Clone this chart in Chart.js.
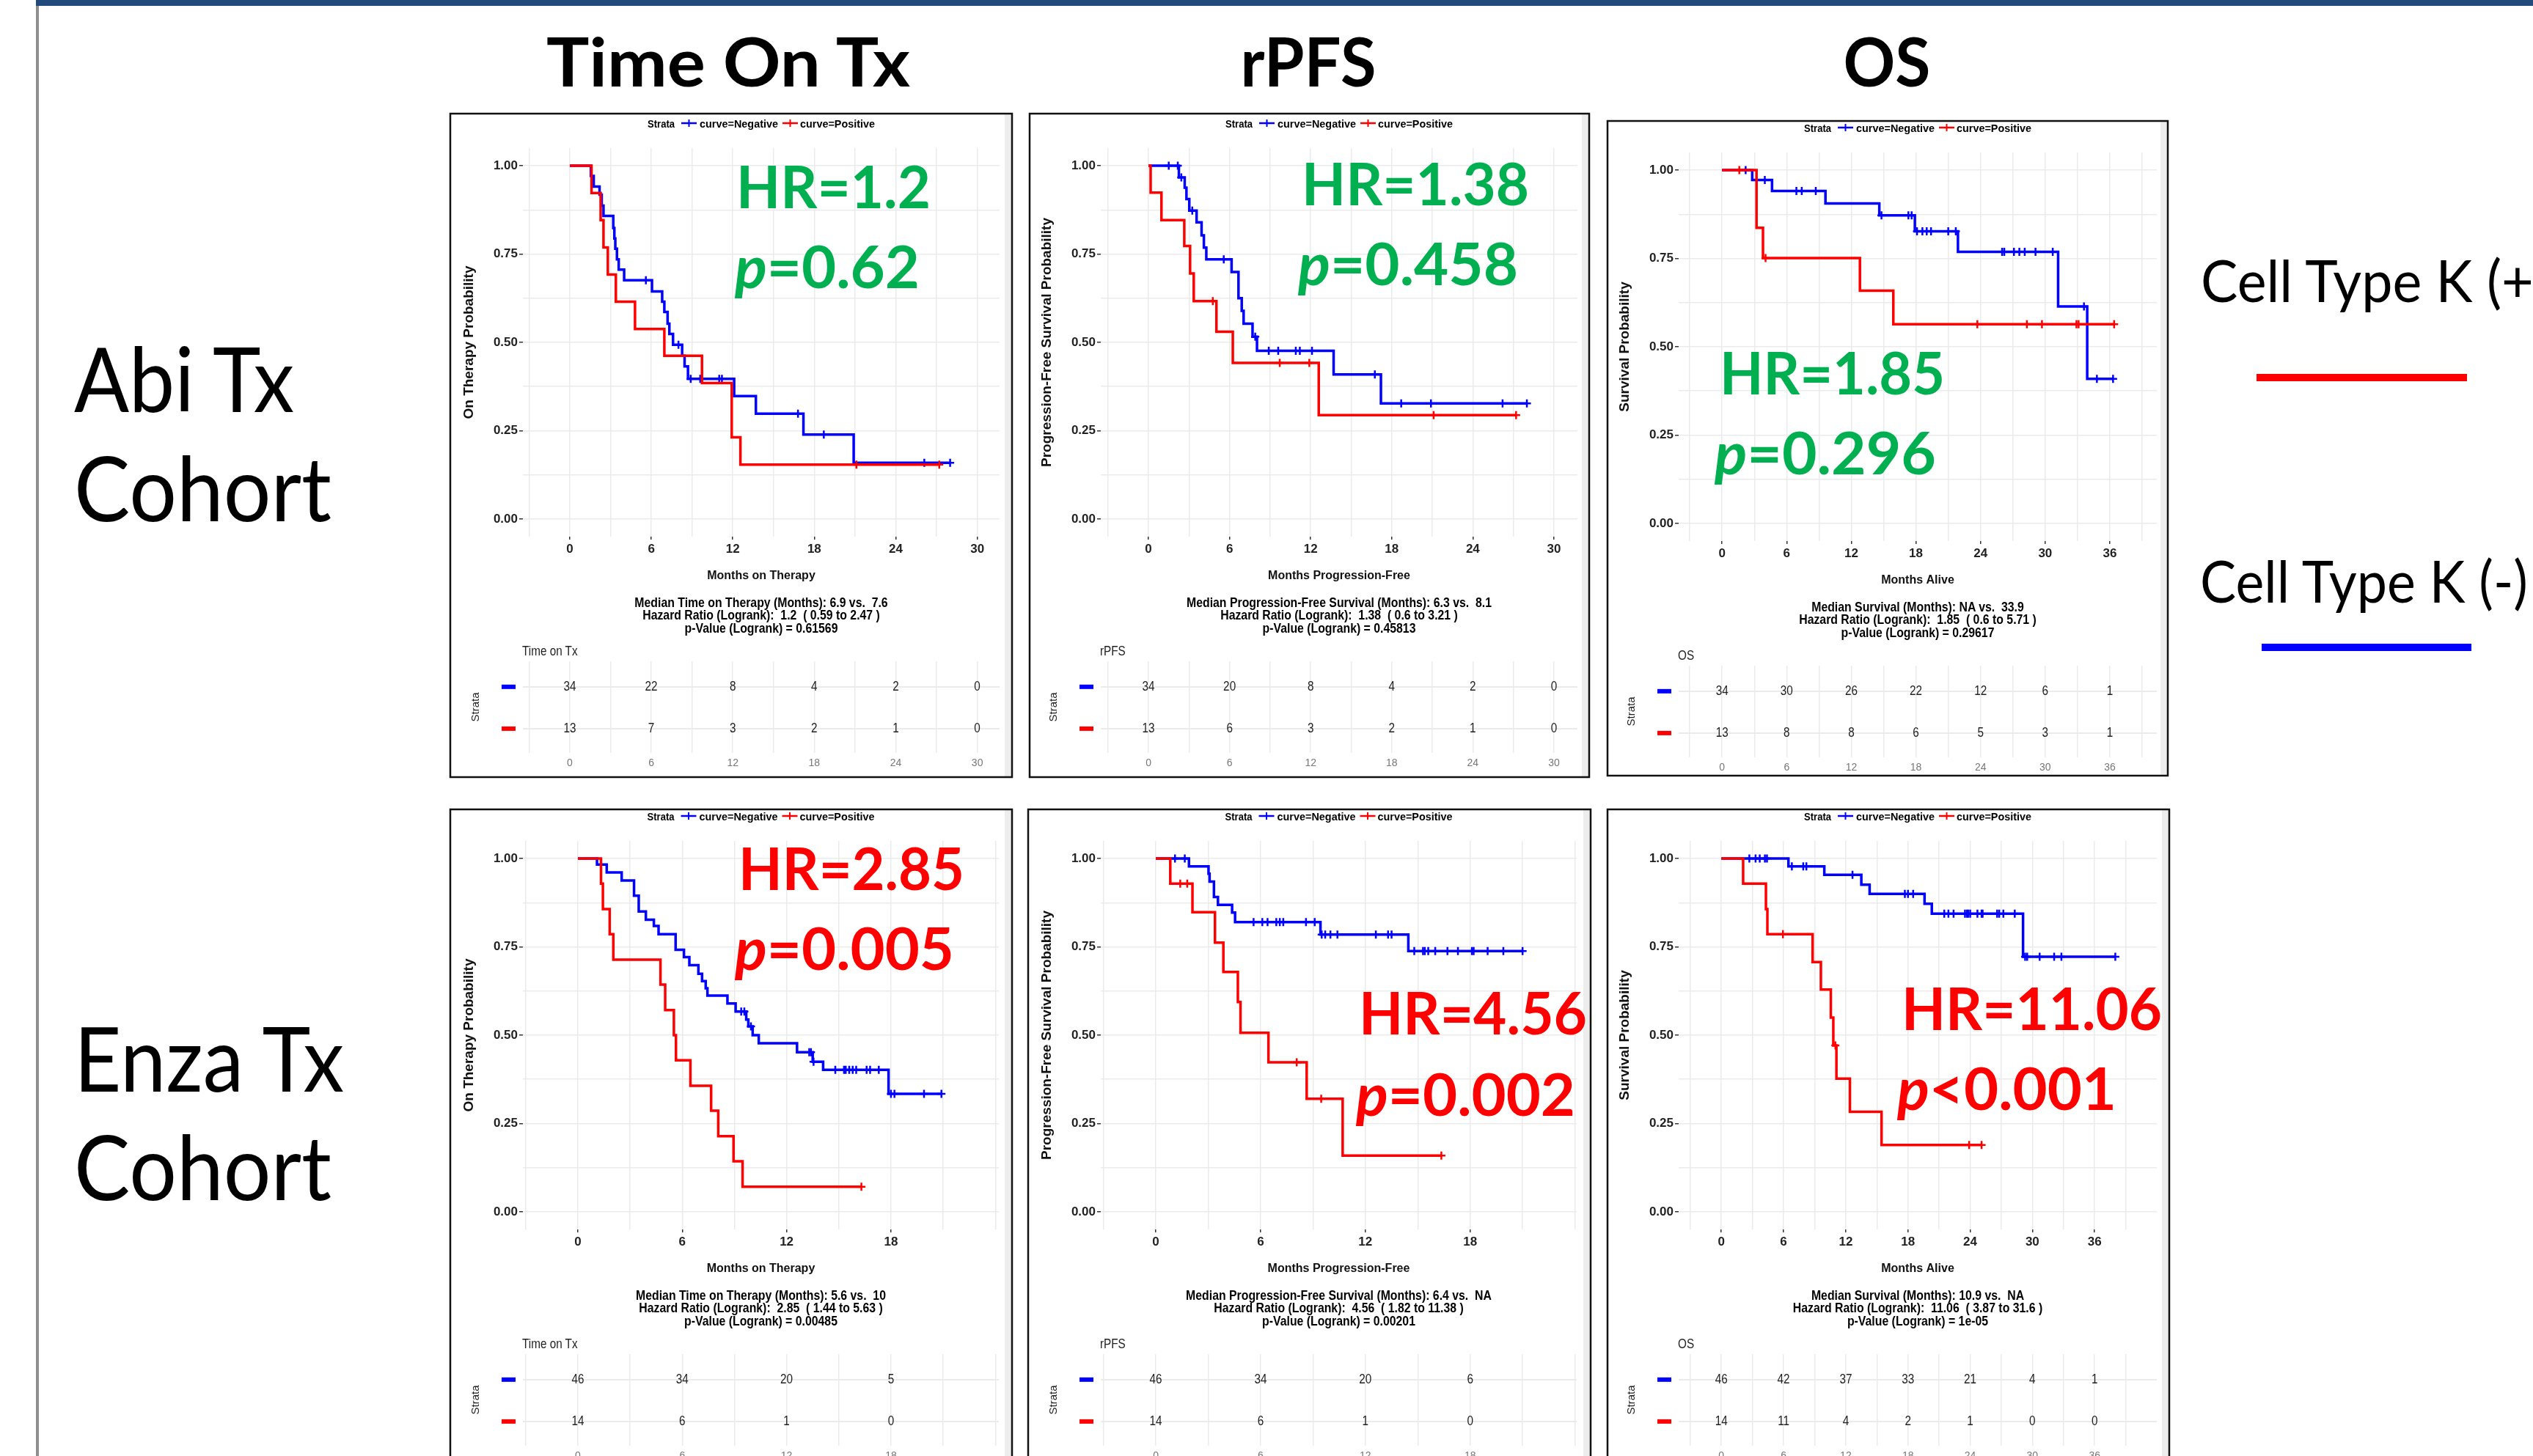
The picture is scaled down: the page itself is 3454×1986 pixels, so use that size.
<!DOCTYPE html>
<html>
<head>
<meta charset="utf-8">
<title>Cell Type K – Kaplan-Meier by cohort</title>
<script src="https://cdn.jsdelivr.net/npm/chart.js"></script>
<style>
  html, body { margin: 0; padding: 0; background: #fff; }
  body { position: relative; width: 3454px; height: 1986px; overflow: hidden; }
  canvas { position: absolute; z-index: 1; }
  #overlay { position: absolute; left: 0; top: 0; z-index: 2; pointer-events: none; }
  #overlay text { white-space: pre; }
</style>
</head>
<body>
<svg id="overlay" width="3454" height="1986" xmlns="http://www.w3.org/2000/svg"></svg>
<script>
const BLUE = '#0000FF';
const RED = '#FF0000';
const GREEN = '#00B050';
const GRID = '#EBEBEB';
const PLOT_FONT = "'Liberation Sans', Arial, sans-serif";
const SLIDE_FONT = "Lato, 'Open Sans', sans-serif";

// month tick labels
const ticks30 = [0, 6, 12, 18, 24, 30];
const ticks36 = [0, 6, 12, 18, 24, 30, 36];
const ticks18 = [0, 6, 12, 18];
const yLabels = [0, 0.25, 0.5, 0.75, 1];

// Abi cohort - time on therapy
const abiTotNegTime = [0, 1.55, 1.76, 2.19, 2.35, 2.48, 3.2, 3.28, 3.35, 3.47, 3.6, 4.0, 6.05, 6.8, 6.96, 7.2, 7.33, 7.6, 8.27, 8.45, 8.7, 12.1, 13.7, 17.2, 20.9];
const abiTotNegSurv = [1, 0.971, 0.941, 0.918, 0.887, 0.858, 0.824, 0.794, 0.765, 0.735, 0.706, 0.676, 0.644, 0.615, 0.586, 0.553, 0.524, 0.493, 0.462, 0.432, 0.397, 0.348, 0.298, 0.239, 0.159];
const abiTotNegCens = [5.6, 8.0, 8.9, 9.6, 11.0, 11.2, 16.8, 18.7, 26.1, 28.0];
const abiTotPosTime = [0, 1.6, 2.27, 2.48, 2.8, 3.39, 4.8, 6.96, 9.73, 11.92, 12.56];
const abiTotPosSurv = [1, 0.923, 0.846, 0.769, 0.692, 0.615, 0.538, 0.462, 0.385, 0.231, 0.154];
const abiTotPosCens = [21.1, 27.2];
const abiTotRiskNeg = [34, 22, 8, 4, 2, 0];
const abiTotRiskPos = [13, 7, 3, 2, 1, 0];

// Abi cohort - rPFS
const abiPfsNegTime = [0, 2.25, 2.68, 2.81, 3.02, 3.56, 3.93, 4.1, 4.28, 6.15, 6.66, 6.9, 7.04, 7.7, 8.03, 13.7, 17.2];
const abiPfsNegSurv = [1, 0.967, 0.938, 0.906, 0.873, 0.84, 0.803, 0.768, 0.735, 0.699, 0.625, 0.589, 0.553, 0.516, 0.476, 0.409, 0.327];
const abiPfsNegCens = [1.5, 2.17, 2.43, 3.24, 5.57, 7.9, 8.9, 9.6, 10.9, 11.2, 12.1, 16.75, 18.7, 20.9, 26.2, 28.0];
const abiPfsPosTime = [0, 0.16, 0.96, 2.65, 3.08, 3.35, 5.03, 6.24, 12.6];
const abiPfsPosSurv = [1, 0.924, 0.846, 0.773, 0.695, 0.617, 0.53, 0.442, 0.294];
const abiPfsPosCens = [4.76, 9.71, 11.9, 21.1, 27.2];
const abiPfsRiskNeg = [34, 20, 8, 4, 2, 0];
const abiPfsRiskPos = [13, 6, 3, 2, 1, 0];

// Abi cohort - OS
const abiOsNegTime = [0, 2.8, 4.64, 9.6, 14.6, 17.9, 21.9, 31.2, 33.9];
const abiOsNegSurv = [1, 0.972, 0.941, 0.906, 0.872, 0.827, 0.769, 0.614, 0.409];
const abiOsNegCens = [2.19, 3.97, 6.9, 7.4, 8.7, 14.8, 17.3, 17.6, 18.1, 18.6, 19.0, 19.4, 21.0, 21.7, 26.0, 26.2, 27.1, 27.6, 28.1, 29.1, 30.7, 33.6, 34.8, 36.3];
const abiOsPosTime = [0, 3.2, 3.8, 12.8, 15.9];
const abiOsPosSurv = [1, 0.837, 0.751, 0.659, 0.564];
const abiOsPosCens = [1.6, 4.04, 23.7, 28.3, 29.7, 32.9, 33.1, 36.4];
const abiOsRiskNeg = [34, 30, 26, 22, 12, 6, 1];
const abiOsRiskPos = [13, 8, 8, 6, 5, 3, 1];

// Enza cohort - time on therapy
const enzaTotNegTime = [0, 1.1, 1.66, 2.52, 3.23, 3.5, 3.91, 4.37, 4.64, 5.62, 6.1, 6.41, 6.93, 7.14, 7.35, 7.45, 8.6, 9.07, 9.68, 9.8, 10.05, 10.4, 12.6, 13.5, 14.1, 17.86];
const enzaTotNegSurv = [1, 0.983, 0.961, 0.938, 0.895, 0.85, 0.827, 0.809, 0.786, 0.742, 0.721, 0.698, 0.674, 0.653, 0.633, 0.612, 0.59, 0.567, 0.544, 0.525, 0.5, 0.477, 0.452, 0.425, 0.402, 0.334];
const enzaTotNegCens = [9.39, 9.57, 9.95, 13.3, 13.4, 13.55, 14.8, 15.3, 15.4, 15.6, 15.8, 16.0, 16.6, 16.8, 17.3, 18.0, 18.2, 19.9, 20.9];
const enzaTotPosTime = [0, 1.33, 1.44, 1.83, 2.04, 4.75, 5.02, 5.52, 5.64, 6.47, 7.66, 8.07, 8.95, 9.47];
const enzaTotPosSurv = [1, 0.929, 0.857, 0.786, 0.714, 0.643, 0.571, 0.5, 0.429, 0.357, 0.286, 0.214, 0.143, 0.071];
const enzaTotPosCens = [16.3];
const enzaTotRiskNeg = [46, 34, 20, 5];
const enzaTotRiskPos = [14, 6, 1, 0];

// Enza cohort - rPFS
const enzaPfsNegTime = [0, 1.9, 3.02, 3.08, 3.33, 3.56, 4.37, 4.54, 9.43, 14.46];
const enzaPfsNegSurv = [1, 0.978, 0.957, 0.935, 0.891, 0.869, 0.847, 0.82, 0.785, 0.738];
const enzaPfsNegCens = [1.1, 1.66, 5.6, 6.1, 6.4, 6.9, 7.1, 7.3, 8.6, 9.1, 9.5, 9.7, 10.0, 10.4, 12.6, 13.3, 13.5, 14.8, 15.3, 15.4, 15.6, 16.0, 16.7, 17.3, 18.1, 18.2, 19.0, 19.9, 21.0];
const enzaPfsPosTime = [0, 0.83, 2.1, 3.39, 3.87, 4.7, 4.85, 6.45, 8.64, 10.7];
const enzaPfsPosSurv = [1, 0.929, 0.848, 0.762, 0.679, 0.594, 0.507, 0.423, 0.32, 0.159];
const enzaPfsPosCens = [1.4, 1.8, 8.07, 9.47, 16.35];
const enzaPfsRiskNeg = [46, 34, 20, 6];
const enzaPfsRiskPos = [14, 6, 1, 0];

// Enza cohort - OS
const enzaOsNegTime = [0, 6.47, 9.93, 13.5, 14.3, 19.6, 20.3, 29.1];
const enzaOsNegSurv = [1, 0.978, 0.954, 0.926, 0.9, 0.872, 0.844, 0.722];
const enzaOsNegCens = [2.7, 3.3, 3.7, 4.2, 4.4, 6.8, 7.9, 8.2, 12.65, 17.7, 18.0, 18.5, 21.5, 21.9, 22.4, 23.5, 23.7, 23.8, 24.0, 24.7, 25.1, 25.2, 26.6, 26.8, 27.2, 28.3, 29.3, 29.5, 30.7, 32.1, 32.8, 38.0];
const enzaOsPosTime = [0, 2.1, 4.3, 4.44, 8.8, 9.6, 10.56, 10.8, 11.1, 12.4, 15.45];
const enzaOsPosSurv = [1, 0.929, 0.857, 0.786, 0.707, 0.629, 0.55, 0.471, 0.377, 0.283, 0.189];
const enzaOsPosCens = [5.94, 11.0, 23.9, 25.1];
const enzaOsRiskNeg = [46, 42, 37, 33, 21, 4, 1];
const enzaOsRiskPos = [14, 11, 4, 2, 1, 0, 0];

// annotation text
const medTotAbi = ['Median Time on Therapy (Months): 6.9 vs.  7.6', 'Hazard Ratio (Logrank):  1.2  ( 0.59 to 2.47 )', 'p-Value (Logrank) = 0.61569'];
const medPfsAbi = ['Median Progression-Free Survival (Months): 6.3 vs.  8.1', 'Hazard Ratio (Logrank):  1.38  ( 0.6 to 3.21 )', 'p-Value (Logrank) = 0.45813'];
const medOsAbi = ['Median Survival (Months): NA vs.  33.9', 'Hazard Ratio (Logrank):  1.85  ( 0.6 to 5.71 )', 'p-Value (Logrank) = 0.29617'];
const medTotEnza = ['Median Time on Therapy (Months): 5.6 vs.  10', 'Hazard Ratio (Logrank):  2.85  ( 1.44 to 5.63 )', 'p-Value (Logrank) = 0.00485'];
const medPfsEnza = ['Median Progression-Free Survival (Months): 6.4 vs.  NA', 'Hazard Ratio (Logrank):  4.56  ( 1.82 to 11.38 )', 'p-Value (Logrank) = 0.00201'];
const medOsEnza = ['Median Survival (Months): 10.9 vs.  NA', 'Hazard Ratio (Logrank):  11.06  ( 3.87 to 31.6 )', 'p-Value (Logrank) = 1e-05'];

const panels = [
  { box: [614, 155, 1380, 1060], L: 713, R: 1363, xMin: -3.455, xMax: 31.64, dy: 0, gridMax: 30, labels: ticks30,
    yTitle: 'On Therapy Probability', xTitle: 'Months on Therapy', med: medTotAbi, riskTitle: 'Time on Tx',
    neg: [abiTotNegTime, abiTotNegSurv, abiTotNegCens], pos: [abiTotPosTime, abiTotPosSurv, abiTotPosCens],
    riskNeg: abiTotRiskNeg, riskPos: abiTotRiskPos, color: GREEN,
    hr: ['HR=1.2', 1004, 284, 265], pv: ['=0.62', 1002, 393, 252] },
  { box: [1404, 155, 2167, 1060], L: 1501, R: 2151, xMin: -3.53, xMax: 31.74, dy: 0, gridMax: 30, labels: ticks30,
    yTitle: 'Progression-Free Survival Probability', xTitle: 'Months Progression-Free', med: medPfsAbi, riskTitle: 'rPFS',
    neg: [abiPfsNegTime, abiPfsNegSurv, abiPfsNegCens], pos: [abiPfsPosTime, abiPfsPosSurv, abiPfsPosCens],
    riskNeg: abiPfsRiskNeg, riskPos: abiPfsRiskPos, color: GREEN,
    hr: ['HR=1.38', 1775, 280, 310], pv: ['=0.458', 1770, 389, 300] },
  { box: [2192, 165, 2956, 1058], L: 2289, R: 2941, xMin: -4.03, xMax: 40.36, dy: 6, gridMax: 39, labels: ticks36,
    yTitle: 'Survival Probability', xTitle: 'Months Alive', med: medOsAbi, riskTitle: 'OS',
    neg: [abiOsNegTime, abiOsNegSurv, abiOsNegCens], pos: [abiOsPosTime, abiOsPosSurv, abiOsPosCens],
    riskNeg: abiOsRiskNeg, riskPos: abiOsRiskPos, color: GREEN,
    hr: ['HR=1.85', 2345, 538, 307], pv: ['=0.296', 2338, 647, 302] },
  { box: [614, 1104, 1380, 2020], L: 713, R: 1362, xMin: -3.16, xMax: 24.2, dy: 945, gridMax: 24, labels: ticks18,
    yTitle: 'On Therapy Probability', xTitle: 'Months on Therapy', med: medTotEnza, riskTitle: 'Time on Tx',
    neg: [enzaTotNegTime, enzaTotNegSurv, enzaTotNegCens], pos: [enzaTotPosTime, enzaTotPosSurv, enzaTotPosCens],
    riskNeg: enzaTotRiskNeg, riskPos: enzaTotRiskPos, color: RED,
    hr: ['HR=2.85', 1007, 1214, 308], pv: ['=0.005', 1002, 1323, 299] },
  { box: [1402, 1104, 2169, 2020], L: 1501, R: 2150, xMin: -3.15, xMax: 24.1, dy: 945, gridMax: 24, labels: ticks18,
    yTitle: 'Progression-Free Survival Probability', xTitle: 'Months Progression-Free', med: medPfsEnza, riskTitle: 'rPFS',
    neg: [enzaPfsNegTime, enzaPfsNegSurv, enzaPfsNegCens], pos: [enzaPfsPosTime, enzaPfsPosSurv, enzaPfsPosCens],
    riskNeg: enzaPfsRiskNeg, riskPos: enzaPfsRiskPos, color: RED,
    hr: ['HR=4.56', 1853, 1411, 311], pv: ['=0.002', 1849, 1522, 299] },
  { box: [2192, 1104, 2958, 2020], L: 2289, R: 2941, xMin: -4.12, xMax: 42.0, dy: 945, gridMax: 39, labels: ticks36,
    yTitle: 'Survival Probability', xTitle: 'Months Alive', med: medOsEnza, riskTitle: 'OS',
    neg: [enzaOsNegTime, enzaOsNegSurv, enzaOsNegCens], pos: [enzaOsPosTime, enzaOsPosSurv, enzaOsPosCens],
    riskNeg: enzaOsRiskNeg, riskPos: enzaOsRiskPos, color: RED,
    hr: ['HR=11.06', 2593, 1405, 355], pv: ['<0.001', 2587, 1514, 299] }
];

// ---------- helpers ----------
function kmPoints(t, s, c) {
  const pts = t.map((x, i) => ({ x, y: s[i] }));
  const end = Math.max(t[t.length - 1], ...c);
  pts.push({ x: end, y: s[s.length - 1] });
  return pts;
}
function survAt(t, s, x) {
  let v = s[0];
  for (let i = 0; i < t.length; i++) if (t[i] <= x) v = s[i];
  return v;
}
function monthGrid(max) {
  const g = [];
  for (let m = -3; m <= max; m += 3) g.push(m);
  return g;
}
const yGrid = [];
for (let v = 0; v <= 1; v += 0.125) yGrid.push(v);

function addCanvas(left, top, w, h) {
  const cv = document.createElement('canvas');
  cv.width = w; cv.height = h;
  cv.style.left = left + 'px'; cv.style.top = top + 'px';
  cv.style.width = w + 'px'; cv.style.height = h + 'px';
  document.body.appendChild(cv);
  return cv;
}

function kmChart(p) {
  const T = Math.round(202 + p.dy), B = Math.round(732 + p.dy);
  const padTop = 16, axisW = 100, axisH = 68, padRight = 20;
  const w = p.R - p.L + axisW + padRight, h = B - T + padTop + axisH;
  const cv = addCanvas(p.L - axisW, T - padTop, w, h);
  const grid = monthGrid(p.gridMax);
  const cens = (d) => d[2].map(t => ({ x: t, y: survAt(d[0], d[1], t) }));
  const line = (d, col) => ({ data: kmPoints(d[0], d[1], d[2]), borderColor: col, borderWidth: 3.5, stepped: 'before', pointRadius: 0, fill: false, tension: 0 });
  const marks = (d, col) => ({ data: cens(d), showLine: false, pointStyle: 'cross', pointRadius: 5.5, pointBorderWidth: 2.5, pointBorderColor: col, borderColor: col, backgroundColor: col });
  new Chart(cv, {
    type: 'line',
    data: { datasets: [line(p.pos, RED), marks(p.pos, RED), line(p.neg, BLUE), marks(p.neg, BLUE)] },
    options: {
      responsive: false, animation: false, events: [],
      layout: { padding: { left: 0, right: padRight, top: padTop, bottom: 0 } },
      plugins: { legend: { display: false }, tooltip: { enabled: false } },
      scales: {
        x: {
          type: 'linear', min: p.xMin, max: p.xMax,
          afterBuildTicks: s => { s.ticks = grid.map(v => ({ value: v })); },
          afterFit: s => { s.height = axisH; },
          border: { display: false },
          grid: { color: GRID, lineWidth: 1.5, tickLength: 4,
            tickColor: c => p.labels.includes(c.tick.value) ? '#333' : 'rgba(0,0,0,0)' },
          ticks: { autoSkip: false, maxRotation: 0, padding: 3, color: '#222',
            font: { family: PLOT_FONT, size: 17, weight: 'bold' },
            callback: v => p.labels.includes(v) ? String(v) : '' },
          title: { display: true, text: p.xTitle, color: '#111', font: { family: PLOT_FONT, size: 16, weight: 'bold' }, padding: { top: 0, bottom: 5 } }
        },
        y: {
          type: 'linear', min: -0.05, max: 1.05,
          afterBuildTicks: s => { s.ticks = yGrid.map(v => ({ value: v })); },
          afterFit: s => { s.width = axisW; },
          border: { display: false },
          grid: { color: GRID, lineWidth: 1.5, tickLength: 5,
            tickColor: c => yLabels.includes(c.tick.value) ? '#333' : 'rgba(0,0,0,0)' },
          ticks: { autoSkip: false, padding: 2, color: '#222',
            font: { family: PLOT_FONT, size: 17, weight: 'bold' },
            callback: v => yLabels.includes(v) ? v.toFixed(2) : '' },
          title: { display: true, text: p.yTitle, color: '#111', font: { family: PLOT_FONT, size: 19, weight: 'bold' }, padding: { top: 15, bottom: 0 } }
        }
      }
    }
  });
}

function riskChart(p) {
  const gt = 902 + p.dy, gb = 1027 + p.dy;
  const padTop = 12, axisW = 100, axisH = 30, padRight = 20;
  const w = p.R - p.L + axisW + padRight, h = gb - gt + padTop + axisH;
  const cv = addCanvas(p.L - axisW, gt - padTop, w, h);
  const grid = monthGrid(p.gridMax);
  const riskText = {
    id: 'riskText',
    afterDatasetsDraw(chart) {
      const { ctx, chartArea, scales: { x, y } } = chart;
      ctx.save();
      ctx.font = '18px ' + PLOT_FONT;
      ctx.textAlign = 'center';
      ctx.textBaseline = 'middle';
      [[p.riskNeg, 2, BLUE], [p.riskPos, 1, RED]].forEach(([vals, row, col]) => {
        const py = y.getPixelForValue(row);
        ctx.fillStyle = col;
        ctx.fillRect(chartArea.left - 29, py - 3, 19, 6);
        ctx.fillStyle = '#222';
        vals.forEach((n, i) => {
          ctx.save();
          ctx.translate(x.getPixelForValue(p.labels[i]), py);
          ctx.scale(0.85, 1);
          ctx.fillText(String(n), 0, 0);
          ctx.restore();
        });
      });
      ctx.restore();
    }
  };
  new Chart(cv, {
    type: 'line',
    data: { datasets: [] },
    plugins: [riskText],
    options: {
      responsive: false, animation: false, events: [],
      layout: { padding: { left: 0, right: padRight, top: padTop, bottom: 0 } },
      plugins: { legend: { display: false }, tooltip: { enabled: false } },
      scales: {
        x: {
          type: 'linear', min: p.xMin, max: p.xMax,
          afterBuildTicks: s => { s.ticks = grid.map(v => ({ value: v })); },
          afterFit: s => { s.height = axisH; },
          border: { display: false },
          grid: { color: GRID, lineWidth: 1.5, drawTicks: false },
          ticks: { autoSkip: false, maxRotation: 0, padding: 6, color: '#777',
            font: { family: PLOT_FONT, size: 14 },
            callback: v => p.labels.includes(v) ? String(v) : '' }
        },
        y: {
          type: 'linear', min: 0.42, max: 2.61,
          afterBuildTicks: s => { s.ticks = [{ value: 1 }, { value: 2 }]; },
          afterFit: s => { s.width = axisW; },
          border: { display: false },
          grid: { color: GRID, lineWidth: 2, drawTicks: false },
          ticks: { display: false },
          title: { display: true, text: 'Strata', color: '#222', font: { family: PLOT_FONT, size: 15 }, padding: { top: 27, bottom: 0 } }
        }
      }
    }
  });
}

// ---------- svg overlay ----------
const svg = document.getElementById('overlay');
const NS = 'http://www.w3.org/2000/svg';
function el(tag, attrs, parent = svg) {
  const e = document.createElementNS(NS, tag);
  for (const k in attrs) e.setAttribute(k, attrs[k]);
  parent.appendChild(e);
  return e;
}
function text(x, y, str, o = {}) {
  const t = el('text', {
    x: 0, y: 0,
    transform: `translate(${x},${y}) scale(${o.sx || 1},1)`,
    'font-family': o.family || PLOT_FONT,
    'font-size': o.size || 16,
    'font-weight': o.weight || 'normal',
    fill: o.fill || '#000',
    'text-anchor': o.anchor || 'start'
  });
  if (o.len) { t.setAttribute('textLength', o.len); t.setAttribute('lengthAdjust', 'spacingAndGlyphs'); }
  if (o.italicFirst) {
    el('tspan', { 'font-style': 'italic' }, t).textContent = o.italicFirst;
    el('tspan', {}, t).textContent = str;
  } else {
    t.textContent = str;
  }
  return t;
}
function legendKey(x, cy, col) {
  el('line', { x1: x, y1: cy, x2: x + 21, y2: cy, stroke: col, 'stroke-width': 2.5 });
  el('line', { x1: x + 10.5, y1: cy - 5, x2: x + 10.5, y2: cy + 5, stroke: col, 'stroke-width': 2 });
}

// slide frame
el('rect', { x: 49, y: 0, width: 3405, height: 8, fill: '#234A7D' });
el('rect', { x: 49, y: 8, width: 4, height: 1978, fill: '#8E8E8E' });

// column and row headings
text(993, 118, 'Time On Tx', { family: SLIDE_FONT, size: 92, weight: 'bold', anchor: 'middle', len: 496 });
text(1784, 118, 'rPFS', { family: SLIDE_FONT, size: 92, weight: 'bold', anchor: 'middle', len: 185 });
text(2573, 118, 'OS', { family: SLIDE_FONT, size: 92, weight: 'bold', anchor: 'middle', len: 119 });
text(101, 562, 'Abi Tx', { family: SLIDE_FONT, size: 122, len: 300 });
text(101, 711, 'Cohort', { family: SLIDE_FONT, size: 122, len: 351 });
text(101, 1489, 'Enza Tx', { family: SLIDE_FONT, size: 122, len: 368 });
text(101, 1637, 'Cohort', { family: SLIDE_FONT, size: 122, len: 351 });

// right-hand key
text(3001, 412, 'Cell Type K (+)', { family: SLIDE_FONT, size: 80, len: 474 });
el('rect', { x: 3077, y: 510, width: 287, height: 10, fill: RED });
text(3000, 822, 'Cell Type K (-)', { family: SLIDE_FONT, size: 80, len: 447 });
el('rect', { x: 3084, y: 878, width: 286, height: 10, fill: BLUE });

panels.forEach(p => {
  kmChart(p);
  riskChart(p);
  const [x0, y0, x1, y1] = p.box;
  el('rect', { x: x1 - 10, y: y0, width: 9, height: y1 - y0, fill: '#EDEDED' });
  el('rect', { x: x0, y: y0, width: x1 - x0, height: y1 - y0, fill: 'none', stroke: '#111', 'stroke-width': 2.5 });

  const cx = (p.L + p.R) / 2;
  const ly = 168 + p.dy;
  text(cx - 155, ly + 5.5, 'Strata', { size: 15, weight: 'bold', len: 37 });
  legendKey(cx - 109, ly, BLUE);
  text(cx - 84, ly + 5.5, 'curve=Negative', { size: 15, weight: 'bold', len: 107 });
  legendKey(cx + 29, ly, RED);
  text(cx + 53, ly + 5.5, 'curve=Positive', { size: 15, weight: 'bold', len: 102 });

  p.med.forEach((s, i) => text(cx, 827.5 + 17.5 * i + p.dy, s, { size: 18, weight: 'bold', anchor: 'middle', sx: 0.88 }));
  text(p.L - 1, 894 + p.dy, p.riskTitle, { size: 18, sx: 0.85, fill: '#222' });

  text(p.hr[1], p.hr[2], p.hr[0], { family: SLIDE_FONT, size: 80, weight: 'bold', fill: p.color, len: p.hr[3] });
  text(p.pv[1], p.pv[2], p.pv[0], { family: SLIDE_FONT, size: 80, weight: 'bold', fill: p.color, len: p.pv[3], italicFirst: 'p' });
});
</script>
</body>
</html>
